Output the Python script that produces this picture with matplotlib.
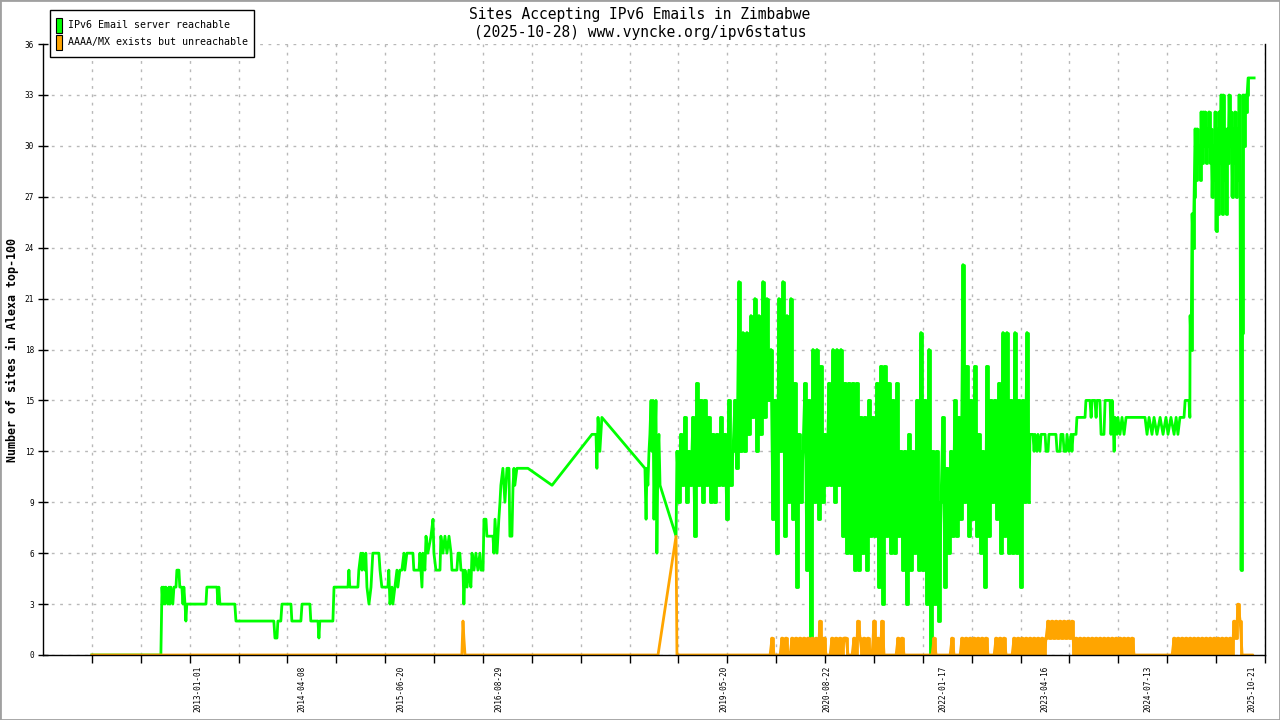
import numpy as np
import matplotlib
matplotlib.use("Agg")
import matplotlib.pyplot as plt
import matplotlib.dates as mdates
from matplotlib.patches import Rectangle

plt.rcParams['font.family'] = 'DejaVu Sans Mono'

START = np.datetime64('2011-09-18')

# IPv6 email reachable -- sparse early period (days since START)
g_day = [0, 306, 311, 315, 319, 324, 328, 337, 342, 346,
         350, 359, 364, 373, 377, 386, 390, 399, 404, 408,
         413, 417, 421, 506, 510, 555, 559, 563, 568, 634,
         639, 807, 812, 821, 825, 838, 843, 883, 887, 927,
         932, 967, 971, 1003, 1007, 1011, 1069, 1074, 1136, 1140,
         1144, 1180, 1184, 1193, 1198, 1202, 1211, 1215, 1220, 1229,
         1238, 1246, 1273, 1278, 1286, 1313, 1317, 1322, 1331, 1335,
         1344, 1353, 1357, 1366, 1375, 1384, 1388, 1397, 1424, 1428,
         1451, 1455, 1464, 1468, 1477, 1482, 1490, 1504, 1513, 1517,
         1526, 1544, 1548, 1557, 1566, 1575, 1584, 1593, 1597, 1619,
         1624, 1632, 1637, 1646, 1650, 1655, 1664, 1672, 1681, 1686,
         1695, 1703, 1712, 1721, 1726, 1735, 1739, 1748, 1752, 1779,
         1783, 1788, 1797, 1805, 1810, 1814, 1823, 1832, 1841, 1850,
         1854, 1863, 1868, 1872, 1876, 1885, 1934, 2041, 2218, 2236,
         2240, 2245, 2253, 2262, 2453, 2458, 2462, 2466, 2471, 2475,
         2480, 2484, 2489, 2493, 2497, 2502, 2506, 2511, 2515, 2520,
         2591]
g_val = [0, 0, 4, 3, 4, 3, 4, 3, 4, 3,
         4, 3, 4, 4, 5, 5, 4, 4, 3, 4,
         3, 2, 3, 3, 4, 4, 3, 4, 3, 3,
         2, 2, 1, 1, 2, 2, 3, 3, 2, 2,
         3, 3, 2, 2, 1, 2, 2, 4, 4, 5,
         4, 4, 5, 6, 5, 6, 5, 6, 4, 3,
         4, 6, 6, 5, 4, 4, 5, 3, 4, 3,
         4, 5, 4, 5, 5, 6, 5, 6, 6, 5,
         5, 6, 4, 6, 5, 7, 6, 7, 8, 6,
         5, 5, 7, 6, 7, 6, 7, 6, 5, 5,
         6, 6, 5, 5, 3, 5, 4, 5, 4, 6,
         5, 6, 5, 6, 5, 5, 8, 8, 7, 7,
         6, 8, 6, 8, 9, 10, 11, 9, 11, 11,
         7, 7, 10, 11, 10, 11, 11, 10, 13, 13,
         11, 14, 12, 14, 11, 8, 11, 10, 12, 13,
         15, 12, 15, 8, 12, 15, 6, 12, 13, 10,
         7]

# dense period, one reading every g_noisy_step days
g_noisy_start, g_noisy_step = 2595, 8.872
g_noisy = [12, 9, 13, 10, 14, 9, 12, 10, 14, 7,
           16, 10, 15, 9, 15, 10, 14, 9, 13, 9,
           13, 10, 14, 10, 13, 8, 15, 10, 12, 15,
           11, 22, 12, 19, 12, 19, 13, 20, 14, 21,
           12, 20, 13, 22, 14, 21, 15, 18, 8, 15,
           6, 21, 12, 22, 7, 20, 9, 21, 8, 16,
           4, 13, 9, 12, 16, 5, 15, 0, 18, 9,
           18, 8, 17, 9, 13, 10, 16, 10, 18, 9,
           18, 10, 18, 7, 16, 6, 16, 6, 16, 5,
           16, 5, 14, 6, 14, 5, 15, 7, 14, 7,
           16, 4, 17, 3, 17, 7, 16, 6, 15, 6,
           16, 7, 12, 5, 12, 3, 13, 5, 12, 6,
           15, 5, 19, 5, 15, 3, 18, 0, 12, 3,
           12, 2, 9, 14, 4, 11, 6, 12, 7, 15,
           7, 14, 8, 23, 9, 17, 7, 15, 8, 17,
           7, 13, 6, 12, 4, 17, 7, 15, 9, 15,
           8, 16, 6, 19, 7, 19, 6, 15, 6, 19,
           6, 15, 4, 15, 9, 19, 9]

g_late_day = [4161, 4174, 4179, 4183, 4192, 4196, 4205, 4210, 4228, 4232,
              4241, 4245, 4276, 4281, 4294, 4298, 4307, 4312, 4321, 4325,
              4334, 4343, 4347, 4352, 4365, 4369, 4405, 4409, 4427, 4432,
              4436, 4449, 4454, 4458, 4471, 4476, 4489, 4494, 4516, 4520,
              4525, 4529, 4534, 4538, 4547, 4551, 4560, 4569, 4578, 4587,
              4671, 4680, 4689, 4702, 4711, 4724, 4738, 4751, 4764, 4773,
              4786, 4800, 4809, 4817, 4826, 4844, 4849, 4866, 4870]
g_late_val = [13, 13, 12, 13, 12, 13, 12, 13, 13, 12,
              12, 13, 13, 12, 12, 13, 13, 12, 12, 13,
              12, 13, 12, 13, 13, 14, 14, 15, 15, 14,
              15, 15, 14, 15, 15, 13, 13, 15, 15, 13,
              15, 14, 12, 14, 13, 14, 13, 14, 13, 14,
              14, 13, 14, 13, 14, 13, 14, 13, 14, 13,
              14, 13, 14, 13, 14, 14, 15, 15, 14]

g_top_start, g_top_step = 4871, 4.436
g_top = [20, 18, 26, 24, 27, 31, 28, 31, 29, 30,
         28, 32, 29, 32, 30, 32, 29, 31, 30, 32,
         29, 31, 27, 30, 28, 32, 25, 31, 26, 32,
         29, 33, 26, 33, 28, 31, 26, 31, 29, 33,
         30, 32, 27, 31, 29, 32, 27, 31, 28, 33,
         27, 5, 19, 33, 30, 33, 32, 33, 34]
g_end_day, g_end_val = 5155, 34

# AAAA/MX exists but unreachable
o_day = [0, 1641, 1646, 1650, 1655, 2511, 2591, 2595, 3003]
o_val = [0, 0, 2, 1, 0, 0, 7, 0, 0]
o_noisy_start, o_noisy_step = 3008, 8.872
o_noisy = [0, 1, 0, 0, 0, 0, 1, 0, 1, 0,
           0, 1, 0, 1, 0, 1, 0, 1, 0, 1,
           0, 1, 0, 1, 0, 2, 0, 1, 0, 0,
           0, 1, 0, 1, 0, 1, 0, 1, 1, 0,
           0, 0, 1, 0, 2, 1, 0, 1, 0, 1,
           0, 0, 2, 0, 1, 0, 2, 0, 0, 0,
           0, 0, 0, 0, 1, 0, 1, 0, 0, 0,
           0, 0, 0, 0, 0, 0, 0, 0, 0, 0,
           0, 0, 1, 0, 0, 0, 0, 0, 0, 0,
           0, 1, 0, 0, 0, 0, 1, 0, 1, 0,
           1, 0, 1, 0, 1, 0, 1, 0, 1, 0,
           0, 0, 0, 1, 0, 1, 0, 1, 0, 0,
           0, 0, 1, 0, 1, 0, 1, 0, 1, 0,
           1, 0, 1, 0, 1, 0, 1, 0, 1, 2,
           1, 2, 1, 2, 1, 2, 1, 2, 1, 2,
           1, 2, 0, 1, 0, 1, 0, 1, 0, 1,
           0, 1, 0, 1, 0, 1, 0, 1, 0, 1,
           0, 1, 0, 1, 0, 1, 0, 1, 0, 1,
           0, 1, 0, 0, 0, 0, 0, 0, 0, 0,
           0, 0, 0, 0, 0, 0, 0, 0, 0, 0,
           0, 0, 1, 0, 1, 0, 1, 0, 1, 0,
           1, 0, 1, 0, 1, 0, 1, 0, 1, 0,
           1, 0, 1, 0, 1, 0, 1, 0, 1, 0,
           1, 0, 2, 1, 3, 2, 0, 0, 0, 0,
           0, 0]

label_dates = ['2013-01-01', '2014-04-08', '2015-06-20', '2016-08-29',
               '2019-05-20', '2020-08-22', '2022-01-17', '2023-04-16',
               '2024-07-13', '2025-10-21']
tick_step = 216.8   # days between unlabeled ticks
n_ticks = 25

GREEN = '#00ff00'
ORANGE = '#ffa500'

base = mdates.date2num(START)

gnx = g_noisy_start + g_noisy_step * np.arange(len(g_noisy)) + base
gtx = g_top_start + g_top_step * np.arange(len(g_top)) + base
gx = np.concatenate([np.array(g_day) + base, gnx,
                     np.array(g_late_day) + base, gtx, [g_end_day + base]])
gy = np.concatenate([g_val, g_noisy, g_late_val, g_top, [g_end_val]])

onx = o_noisy_start + o_noisy_step * np.arange(len(o_noisy)) + base
ox = np.concatenate([np.array(o_day) + base, onx])
oy = np.concatenate([o_val, o_noisy])

fig = plt.figure(figsize=(12.8, 7.2), dpi=100)
ax = fig.add_axes([43 / 1280, 65 / 720, 1222 / 1280, 611 / 720])

# full series as lines, dense stretches re-drawn as steps so daily jitter fills in
ax.plot(gx, gy, color=GREEN, lw=2)
ax.plot(gnx, g_noisy, color=GREEN, lw=2, drawstyle='steps-mid')
ax.plot(gtx, g_top, color=GREEN, lw=2, drawstyle='steps-mid')
ax.plot(ox, oy, color=ORANGE, lw=2)
ax.plot(onx, o_noisy, color=ORANGE, lw=2, drawstyle='steps-mid')

ax.set_xlim(base - tick_step, base + (n_ticks - 1) * tick_step)
ax.set_ylim(0, 36)

# labels at data dates, plain ticks at regular steps
ax.set_xticks(mdates.datestr2num(label_dates))
ax.set_xticklabels(label_dates, rotation=90, fontsize=5.6)
ax.set_xticks(base + tick_step * np.arange(n_ticks), minor=True)
ax.tick_params(axis='x', which='major', length=0, pad=8)
ax.tick_params(axis='x', which='minor', direction='out', length=5.8, width=1)

ax.set_yticks(range(0, 37, 3))
ax.tick_params(axis='y', direction='inout', length=7.2, width=1,
               labelsize=5.6, pad=3)

ax.set_axisbelow(True)
grid_kw = dict(color='#b8b8b8', linestyle=(0, (2, 4)), lw=1)
ax.grid(True, which='minor', axis='x', **grid_kw)
ax.grid(True, which='major', axis='y', **grid_kw)

ax.spines['top'].set_visible(False)
for s in ['left', 'right', 'bottom']:
    ax.spines[s].set_linewidth(1)
    ax.spines[s].set_color('black')

fig.text(640 / 1280, 1 - 14 / 720, 'Sites Accepting IPv6 Emails in Zimbabwe',
         ha='center', va='center', fontsize=10.5)
fig.text(640 / 1280, 1 - 32 / 720, '(2025-10-28) www.vyncke.org/ipv6status',
         ha='center', va='center', fontsize=10.5)
fig.text(12 / 1280, 1 - 350 / 720, 'Number of sites in Alexa top-100',
         rotation=90, ha='center', va='center', fontsize=8.4,
         fontweight='bold')

# legend box
fig.add_artist(Rectangle((50 / 1280, 1 - 57 / 720), 204 / 1280, 47 / 720,
                         transform=fig.transFigure, facecolor='white',
                         edgecolor='black', lw=1, zorder=5))
legend_items = [('IPv6 Email server reachable', GREEN, 25),
                ('AAAA/MX exists but unreachable', ORANGE, 42)]
for text, col, yc in legend_items:
    fig.add_artist(Rectangle((56 / 1280, 1 - (yc + 8) / 720), 6 / 1280, 15 / 720,
                             transform=fig.transFigure, facecolor=col,
                             edgecolor='black', lw=0.8, zorder=6))
    fig.text(68 / 1280, 1 - yc / 720, text, ha='left', va='center',
             fontsize=7.2, zorder=7)

# outer frame
fig.add_artist(Rectangle((0, 0), 1, 1, transform=fig.transFigure,
                         fill=False, edgecolor='#a0a0a0', lw=2))

fig.savefig('out.png', dpi=100)
